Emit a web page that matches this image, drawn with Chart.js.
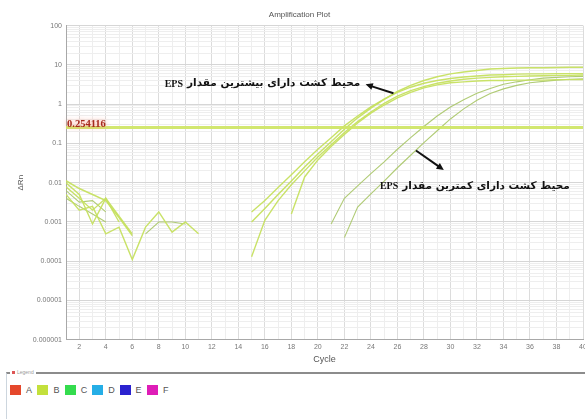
<!DOCTYPE html>
<html>
<head>
<meta charset="utf-8">
<script src="https://cdn.jsdelivr.net/npm/chart.js@4.4.1/dist/chart.umd.min.js"></script>
<style>
  html, body { margin: 0; padding: 0; background: #fff; overflow: hidden; }
  #wrap { position: relative; width: 585px; height: 419px; overflow: hidden; }
  #plot { position: absolute; left: 0; top: 0; }
  .legend { position: absolute; left: 6px; top: 372px; width: 600px; height: 60px;
            border-top: 2px solid #8c8c8c; border-left: 1px solid #cdd6de; }
  .legend .cap { position: absolute; left: 3px; top: -5px; font: 5px "Liberation Sans"; color: #999;
                 background: #fff; padding: 0 2px; }
  .legend .cap i { display: inline-block; width: 3px; height: 3px; background: #d55; margin-right: 2px; }
  .items { position: absolute; left: 3px; top: 11px; display: flex; font: 9px "Liberation Sans"; color: #555; }
  .items .it { display: flex; align-items: center; width: 27.4px; }
  .items .sw { width: 11px; height: 10px; margin-right: 5px; }
</style>
</head>
<body>
<div id="wrap">
  <canvas id="plot" width="600" height="368"></canvas>
  <div class="legend">
    <span class="cap"><i></i>Legend</span>
    <div class="items" id="items"></div>
  </div>
</div>
<script>
// cycles 1..40
const cycles = [1, 2, 3, 4, 5, 6, 7, 8, 9, 10, 11, 12, 13, 14, 15, 16, 17, 18, 19, 20,
                21, 22, 23, 24, 25, 26, 27, 28, 29, 30, 31, 32, 33, 34, 35, 36, 37, 38, 39, 40];

// ΔRn per cycle for each well (null = below zero, not drawn on log axis)
const wellA = [0.0112, 0.0071, 0.005, 0.0035, 0.0013, 0.00045, null, null, null, null,
               null, null, null, null, 0.001, 0.0022, 0.005, 0.011, 0.025, 0.054,
               0.11, 0.23, 0.45, 0.79, 1.32, 2.1, 3.0, 4.0, 5.0, 5.9,
               6.6, 7.2, 7.8, 8.1, 8.3, 8.5, 8.5, 8.6, 8.7, 8.7];
const wellB = [0.0079, 0.004, 0.002, 0.004, 0.0014, 0.0005, null, null, null, null,
               null, null, null, null, 0.00013, 0.0011, 0.0035, 0.0089, 0.02, 0.045,
               0.093, 0.19, 0.36, 0.63, 1.05, 1.6, 2.2, 2.8, 3.4, 3.9,
               4.3, 4.6, 4.8, 5.0, 5.1, 5.2, 5.3, 5.4, 5.4, 5.5];
const wellC = [0.005, 0.002, 0.0025, 0.0005, 0.00074, 0.00011, 0.00074, 0.0018, 0.00055, 0.001,
               0.0005, null, null, null, null, null, null, 0.0016, 0.014, 0.038,
               0.083, 0.17, 0.33, 0.59, 0.95, 1.45, 2.0, 2.6, 3.1, 3.5,
               3.7, 3.9, 4.0, 4.0, 4.1, 4.1, 4.1, 4.2, 4.2, 4.2];
const wellD = [0.01, 0.005, 0.00089, 0.004, 0.001, null, null, null, null, null,
               null, null, null, null, 0.0018, 0.0035, 0.0076, 0.016, 0.034, 0.071,
               0.14, 0.28, 0.5, 0.85, 1.35, 2.0, 2.7, 3.4, 4.0, 4.5,
               4.9, 5.2, 5.5, 5.6, 5.8, 5.9, 5.9, 6.0, 6.0, 6.0];
const wellE = [0.0063, 0.0032, 0.0035, 0.0018, null, null, 0.0005, 0.001, 0.001, 0.00089,
               null, null, null, null, null, null, null, null, null, null,
               0.00089, 0.004, 0.0083, 0.017, 0.034, 0.071, 0.14, 0.27, 0.5, 0.85,
               1.3, 1.9, 2.5, 3.2, 3.7, 4.2, 4.6, 4.8, 5.0, 5.1];
const wellF = [0.004, 0.0025, 0.0016, 0.001, null, null, null, null, null, null,
               null, null, null, null, null, null, null, null, null, null,
               null, 0.0004, 0.0024, 0.0052, 0.011, 0.024, 0.05, 0.105, 0.21, 0.42,
               0.76, 1.26, 1.86, 2.45, 3.0, 3.5, 3.8, 4.1, 4.3, 4.4];

const thresholdValue = 0.254116;

const yDecades = [0.000001, 0.00001, 0.0001, 0.001, 0.01, 0.1, 1, 10, 100];
const yTickLabels = ['0.000001', '0.00001', '0.0001', '0.001', '0.01', '0.1', '1', '10', '100'];

const legendNames = ['A', 'B', 'C', 'D', 'E', 'F'];
const legendColors = ['#e5482c', '#c3e03c', '#34dc4e', '#25aee6', '#2b22cf', '#de1db7'];

const noteMost = 'محیط کشت دارای بیشترین مقدار';
const noteLeast = 'محیط کشت دارای کمترین مقدار';

// legend row under the plot
const items = document.getElementById('items');
legendNames.forEach((n, i) => {
  const it = document.createElement('div');
  it.className = 'it';
  it.innerHTML = '<span class="sw" style="background:' + legendColors[i] + '"></span>' + n;
  items.appendChild(it);
});

// full log grid: 1..9 x each decade
const yGrid = [];
yDecades.forEach((d, i) => {
  if (i === yDecades.length - 1) { yGrid.push(d); return; }
  for (let k = 1; k <= 9; k++) yGrid.push(k * d);
});

function series(vals, color, width) {
  return {
    data: vals.map((v, i) => ({x: cycles[i], y: v})),
    borderColor: color,
    borderWidth: width,
    pointRadius: 0,
    tension: 0,
    spanGaps: false
  };
}

function arrow(ctx, x1, y1, x2, y2) {
  const a = Math.atan2(y2 - y1, x2 - x1);
  ctx.beginPath();
  ctx.moveTo(x1, y1);
  ctx.lineTo(x2 - 5 * Math.cos(a), y2 - 5 * Math.sin(a));
  ctx.stroke();
  ctx.beginPath();
  ctx.moveTo(x2, y2);
  ctx.lineTo(x2 - 8 * Math.cos(a - 0.45), y2 - 8 * Math.sin(a - 0.45));
  ctx.lineTo(x2 - 8 * Math.cos(a + 0.45), y2 - 8 * Math.sin(a + 0.45));
  ctx.closePath();
  ctx.fill();
}

function note(ctx, text, right, midY) {
  ctx.save();
  ctx.fillStyle = '#111';
  ctx.textBaseline = 'middle';
  ctx.font = 'bold 10.5px "DejaVu Sans"';
  ctx.direction = 'rtl';
  ctx.textAlign = 'right';
  ctx.fillText(text, right, midY);
  const w = ctx.measureText(text).width;
  ctx.direction = 'ltr';
  ctx.font = 'bold 10px "Liberation Serif"';
  ctx.fillText('EPS', right - w - 4, midY + 1);
  ctx.restore();
}

const notesPlugin = {
  id: 'notes',
  afterDatasetsDraw(chart) {
    const {ctx, scales: {x, y}} = chart;
    // threshold value written on the line
    ctx.save();
    ctx.font = 'bold 10.5px "Liberation Serif"';
    ctx.fillStyle = '#a52a1c';
    ctx.textBaseline = 'bottom';
    ctx.shadowColor = 'rgba(255,140,110,0.9)';
    ctx.shadowBlur = 5;
    ctx.fillText(thresholdValue.toFixed(6), x.left + 1, y.getPixelForValue(thresholdValue) + 2);
    ctx.restore();

    ctx.save();
    ctx.strokeStyle = '#111';
    ctx.fillStyle = '#111';
    ctx.lineWidth = 2;
    arrow(ctx, x.getPixelForValue(25.7), y.getPixelForValue(1.9),
               x.getPixelForValue(23.6), y.getPixelForValue(3.2));
    arrow(ctx, x.getPixelForValue(27.4), y.getPixelForValue(0.066),
               x.getPixelForValue(29.5), y.getPixelForValue(0.021));
    ctx.restore();

    note(ctx, noteMost, x.getPixelForValue(23.2), y.getPixelForValue(3.45));
    note(ctx, noteLeast, x.getPixelForValue(39.0), y.getPixelForValue(0.0083));
  }
};

const main = 'rgba(198,224,96,0.95)';
const late = 'rgba(172,200,110,0.95)';

new Chart(document.getElementById('plot'), {
  type: 'line',
  data: {
    datasets: [
      {
        data: cycles.map(c => ({x: c, y: thresholdValue})),
        borderColor: 'rgba(208,230,104,0.95)',
        borderWidth: 3,
        pointRadius: 0
      },
      series(wellA, main, 1.5),
      series(wellB, main, 1.4),
      series(wellC, main, 1.4),
      series(wellD, main, 1.4),
      series(wellE, late, 1.1),
      series(wellF, late, 1.1)
    ]
  },
  options: {
    responsive: false,
    animation: false,
    layout: {padding: {left: 16, right: 17, top: 0, bottom: 3}},
    plugins: {
      legend: {display: false},
      tooltip: {enabled: false},
      title: {
        display: true,
        text: 'Amplification Plot',
        color: '#555',
        font: {family: 'Liberation Sans', size: 8, weight: 'normal'},
        padding: {top: 10, bottom: 6}
      }
    },
    scales: {
      x: {
        type: 'linear',
        min: 1,
        max: 40,
        border: {color: '#a8a8a8'},
        grid: {
          drawTicks: false,
          color: c => (c.tick && c.tick.value % 2 === 0) ? '#dcdcdc' : '#eeeeee'
        },
        ticks: {
          stepSize: 1,
          autoSkip: false,
          maxRotation: 0,
          padding: 3,
          color: '#777',
          font: {family: 'Liberation Sans', size: 7},
          callback: v => v % 2 === 0 ? String(v) : ''
        },
        title: {
          display: true,
          text: 'Cycle',
          color: '#555',
          font: {family: 'Liberation Sans', size: 9},
          padding: {top: 0, bottom: 0}
        }
      },
      y: {
        type: 'logarithmic',
        min: 0.000001,
        max: 100,
        border: {color: '#a8a8a8'},
        afterBuildTicks: scale => {
          scale.ticks = yGrid.map(v => ({value: v, major: yDecades.includes(v)}));
        },
        afterFit: scale => { scale.width = 50; },
        grid: {
          drawTicks: false,
          color: c => (c.tick && yDecades.includes(c.tick.value)) ? '#d6d6d6' : '#eeeeee'
        },
        ticks: {
          autoSkip: false,
          padding: 4,
          color: '#777',
          font: {family: 'Liberation Sans', size: 7},
          callback: v => {
            const i = yDecades.indexOf(v);
            return i >= 0 ? yTickLabels[i] : '';
          }
        },
        title: {
          display: true,
          text: 'ΔRn',
          color: '#555',
          font: {family: 'Liberation Sans', size: 8},
          padding: 0
        }
      }
    }
  },
  plugins: [notesPlugin]
});
</script>
</body>
</html>
